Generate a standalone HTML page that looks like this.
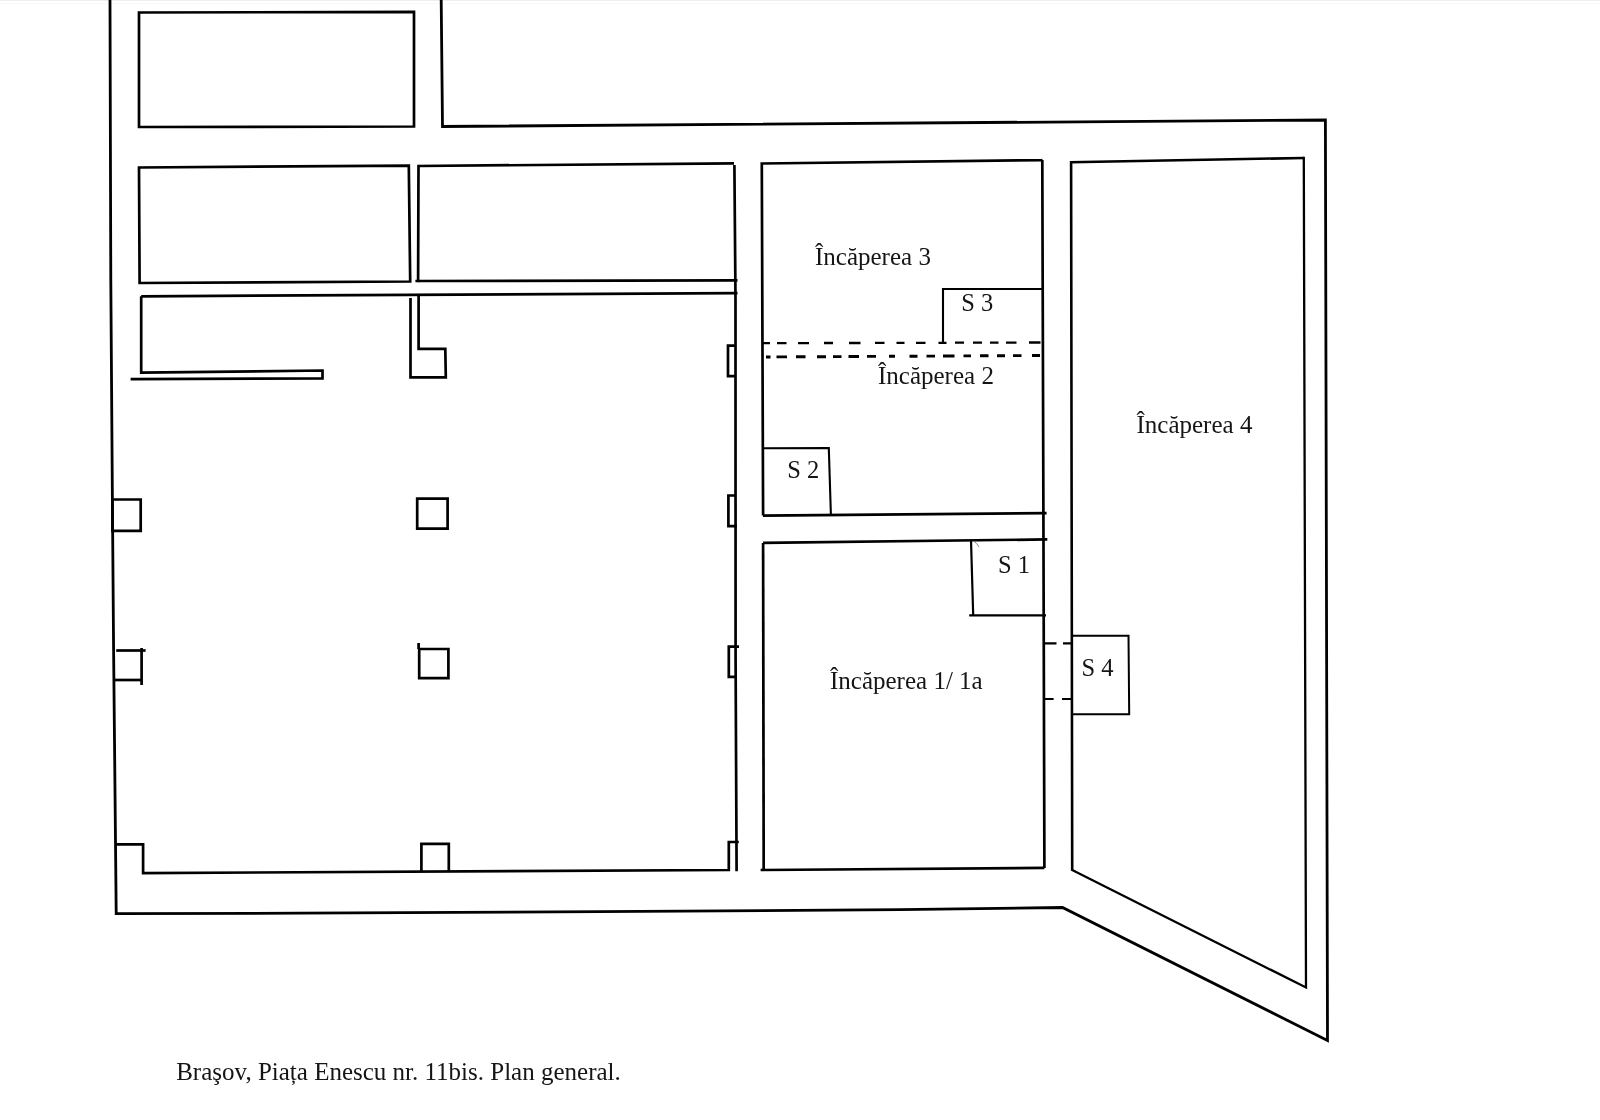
<!DOCTYPE html>
<html>
<head>
<meta charset="utf-8">
<style>
html,body{margin:0;padding:0;background:#fff;}
body{width:1600px;height:1120px;overflow:hidden;}
svg{display:block;}
text{-webkit-font-smoothing:antialiased;}
text{font-family:"Liberation Serif", serif;fill:#151515;}
.l{font-size:25px;}
.s{font-size:24.5px;}
.c{font-size:25px;}
</style>
</head>
<body>
<svg width="1600" height="1120" viewBox="0 0 1600 1120">
<rect x="0" y="0" width="1600" height="1120" fill="#fff"/>
<line x1="0" y1="0.5" x2="1600" y2="0.5" stroke="#efefef" stroke-width="1"/>
<line x1="0" y1="3.5" x2="1600" y2="3.5" stroke="#fafafa" stroke-width="1"/>
<g fill="none" stroke="#000" stroke-width="2.7" stroke-linejoin="miter" stroke-linecap="butt">
<!-- outer shape -->
<polyline stroke-width="2.8" points="110,0 110.8,280 112.4,500 113.6,650 114.5,740 116.2,913.7 300,913.2 600,911.7 900,909.6 1062.5,907.5 1327.5,1040.5 1325.4,120 442.5,126.5 441.2,0"/>
<!-- top small rooms -->
<polygon points="139,12.5 414,11.9 414,126.5 139,127"/>
<polygon points="139,167.5 408.8,165.6 410.2,281.5 139.6,283"/>
<polyline points="734,163.3 418.5,166 418.1,281 415.4,281"/>
<line x1="418" y1="281" x2="737.5" y2="280.3"/>
<!-- hall -->
<line x1="141.2" y1="296.3" x2="737.5" y2="293.1"/>
<polyline points="141.2,296.3 141.2,372.7 322.5,370.5 322.5,378.4 130.6,379.2"/>
<polyline points="410.5,298 410.5,377.3 445.8,377.3 445.3,348.8 418.6,348.8 418.6,295.5"/>
<polygon points="112.4,499.5 140.7,499.5 140.7,530.9 112.4,530.9"/>
<line x1="116.2" y1="650.5" x2="145.6" y2="650.5"/>
<line x1="141.6" y1="648" x2="141.6" y2="685"/>
<line x1="113.4" y1="680" x2="141.6" y2="680"/>
<polyline points="115.8,844.4 143.1,844.4 143.1,873.1 728.8,870 728.8,842 738.8,842"/>
<polyline points="421.4,871.8 421.4,843.8 448.8,843.8 448.8,871.4"/>
<polyline points="734.4,165 735.5,300 735.6,660 736.6,871.3"/>
<polyline points="735.6,345.6 728,345.6 728,376.2 735.6,376.2"/>
<polyline points="735.5,495.5 728.4,495.5 728.4,526.1 737,526.1"/>
<polyline points="739,646.6 728.8,646.6 728.8,676.9 737,676.9"/>
<polygon points="417.2,498.7 447.6,498.7 447.6,528.7 417.2,528.7"/>
<polygon points="419.2,649 448.4,649 448.4,678.1 419.2,678.1"/>
<line x1="418.6" y1="643" x2="418.6" y2="649"/>
<!-- room 3 / 2 -->
<polyline points="763.1,515.6 761.8,163.5 1041.8,160.1 1042.5,160"/>
<polyline points="1042.3,160 1043.4,513 1044.4,868"/>
<line x1="763" y1="515.6" x2="1046.6" y2="513.2"/>
<polyline stroke-width="2.1" points="943,342 943,289 1042.5,289"/>
<polyline stroke-width="2.1" points="763,448.2 828.8,448 830.9,515"/>
<!-- room 1 -->
<line x1="763.1" y1="542.9" x2="1047.3" y2="539.4"/>
<polyline points="763.1,543 763.7,870"/>
<line x1="760.6" y1="870" x2="1044.4" y2="867.9"/>
<polyline stroke-width="2.2" points="971,540 973.2,615.3"/>
<line stroke-width="2.2" x1="969.2" y1="615.3" x2="1046" y2="615.3"/>
<path d="M973.5,541 Q977,543 979,547" stroke="#888" stroke-width="1"/>
<!-- room 4 -->
<polyline points="1303.8,158 1306,987.5 1072.2,870" stroke-width="2.3" stroke-linecap="square"/>
<polyline points="1072.2,870 1071.1,162.2 1303.8,158" stroke-width="2.6"/>
<polyline stroke-width="2" points="1072,635.7 1128.5,635.7 1129.2,714.3 1072,714.3"/>
</g>
<g fill="none" stroke="#000" stroke-width="2.2">
<path stroke-width="2.3" d="M762,343.2H770 M777,343.2H786.5 M798,343.1H809 M824,343.0H833 M849,343.0H860.5 M875,342.9H884.5 M896.5,342.9H904.5 M916,342.8H925.5 M938.5,342.8H946.5 M955,342.7H964 M973,342.7H982 M990,342.6H998.5 M1006,342.6H1016.5 M1029,342.5H1040.5"/>
<path stroke-width="2.9" d="M766,357.0H770.5 M776.5,356.9H787 M796,356.8H805.5 M817,356.7H826 M833,356.6H841.5 M848.5,356.5H859 M867,356.4H876 M889,356.3H895 M909.5,356.2H917.5 M926.5,356.1H935 M943,356.0H954.5 M963.5,355.9H971 M980,355.8H988.5 M997,355.7H1005 M1013,355.6H1021.5 M1032,355.5H1040"/>
<path d="M1044,643.4H1056.5 M1063,643.4H1071"/>
<path d="M1044,699H1053.6 M1062,699H1071"/>
</g>
<g style="will-change:transform;filter:opacity(0.999)">
<text class="l" x="815" y="265">Încăperea 3</text>
<text class="l" x="878" y="383.6">Încăperea 2</text>
<text class="l" x="1136.5" y="432.8">Încăperea 4</text>
<text class="l" x="830" y="688.7">Încăperea 1/ 1a</text>
<text class="s" x="961.3" y="310.5">S 3</text>
<text class="s" x="787.3" y="478">S 2</text>
<text class="s" x="998.1" y="572.7">S 1</text>
<text class="s" x="1081.5" y="675.8">S 4</text>
<text class="c" x="176.2" y="1080">Braşov, Piața Enescu nr. 11bis. Plan general.</text>
</g>
</svg>
</body>
</html>
